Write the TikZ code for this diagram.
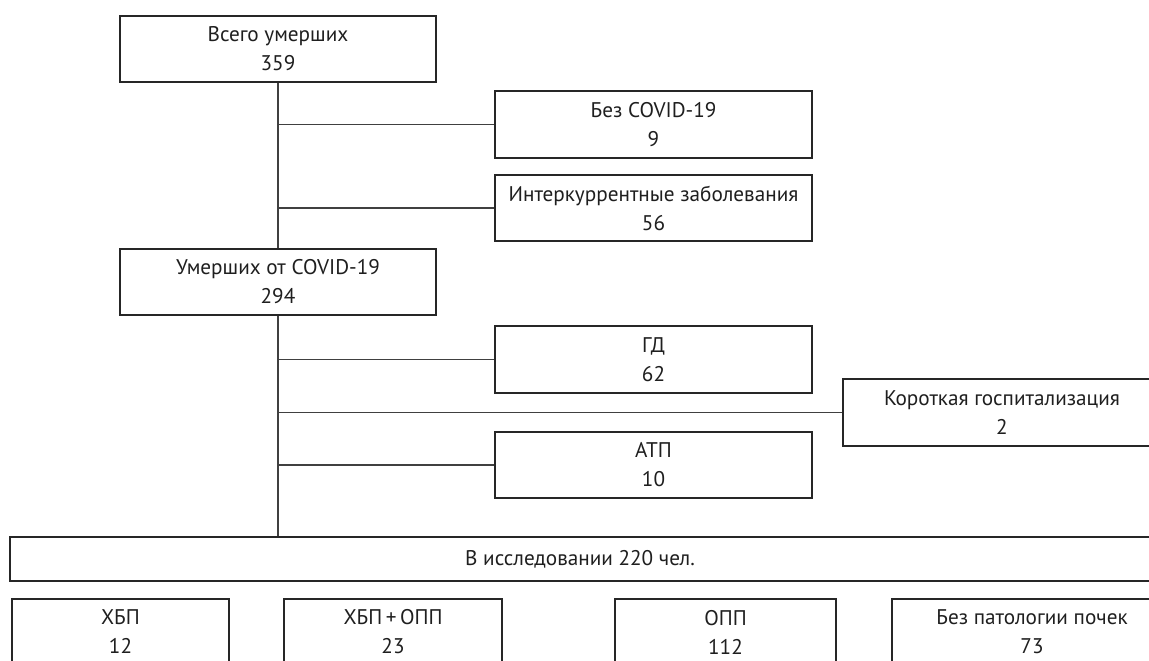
\documentclass[tikz,border=0pt]{standalone}
\usepackage{fontspec}
\setmainfont{PT Sans}
\begin{document}
\begin{tikzpicture}[x=0.5pt,y=-0.5pt,
  box/.style={draw=black!85,line width=0.75pt,rectangle,inner sep=0pt,align=center,
    font=\fontsize{10.6}{14.5}\selectfont,text=black!88},
  link/.style={draw=black!75,line width=0.7pt}]
\useasboundingbox[clip] (0,0) rectangle (1149,660);
\fill[white] (0,0) rectangle (1149,660);
\node[box,minimum width=158pt,minimum height=33pt] (top) at (278,49) {Всего умерших\\359};
\node[box,minimum width=158.5pt,minimum height=33.5pt] (nocovid) at (653.5,124.5) {Без COVID-19\\9};
\node[box,minimum width=158.5pt,minimum height=33pt] (interc) at (653.5,208) {Интеркуррентные заболевания\\56};
\node[box,minimum width=158pt,minimum height=33pt] (mid) at (278,282) {Умерших от COVID-19\\294};
\node[box,minimum width=158.5pt,minimum height=33.5pt] (gd) at (653.5,359.5) {ГД\\62};
\node[box,minimum width=159pt,minimum height=33.5pt] (short) at (1002,412.5) {Короткая госпитализация\\2};
\node[box,minimum width=158.5pt,minimum height=33pt] (atp) at (653.5,465) {АТП\\10};
\node[box,minimum width=570pt,minimum height=22pt] (study) at (580,559) {В исследовании 220 чел.};
\node[box,minimum width=108.5pt,minimum height=33pt] (b1) at (120.5,632) {ХБП\\12};
\node[box,minimum width=109pt,minimum height=33pt] (b2) at (393,632) {ХБП\,+\,ОПП\\23};
\node[box,minimum width=110.5pt,minimum height=33pt] (b3) at (725.5,632) {ОПП\\112};
\node[box,minimum width=140pt,minimum height=33pt] (b4) at (1032,632) {Без патологии почек\\73};
\draw[link] (top.south) -- (mid.north);
\draw[link] (mid.south) -- (mid.south |- study.north);
\draw[link] (nocovid.west) -- (nocovid.west -| top.south);
\draw[link] (interc.west) -- (interc.west -| top.south);
\draw[link] (gd.west) -- (gd.west -| mid.south);
\draw[link] (short.west) -- (short.west -| mid.south);
\draw[link] (atp.west) -- (atp.west -| mid.south);
\end{tikzpicture}
\end{document}
